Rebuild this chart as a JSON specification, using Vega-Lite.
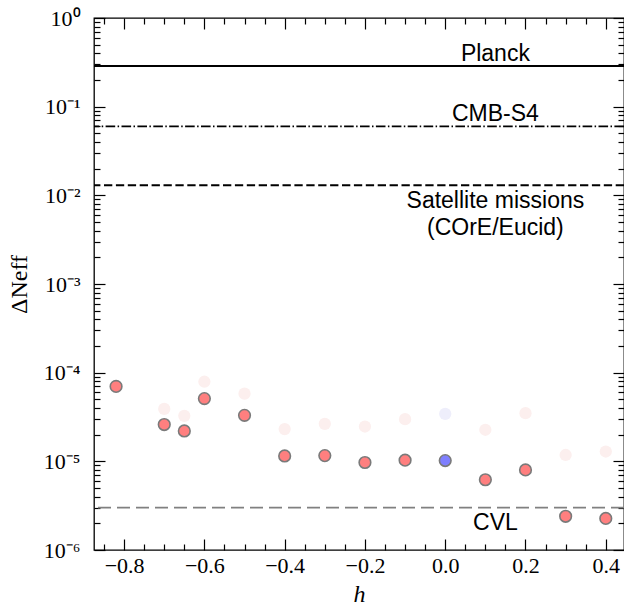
{
  "$schema": "https://vega.github.io/schema/vega-lite/v6.json",
  "autosize": {"type": "none"},
  "width": 530,
  "height": 532,
  "padding": {"left": 94, "top": 18, "right": 0, "bottom": 58},
  "background": "white",
  "config": {
    "view": {"stroke": "black", "strokeWidth": 1.3},
    "axis": {"domain": false, "grid": false, "labelFont": "Liberation Serif", "labelFontSize": 22, "labelColor": "black", "titleFont": "Liberation Serif", "titleFontSize": 24, "titleColor": "black", "titleFontWeight": "normal"}
  },
  "datasets": {
    "solid": [
      {"h": -0.82, "dn": 7.0e-5, "c": "r"},
      {"h": -0.7, "dn": 2.6e-5, "c": "r"},
      {"h": -0.65, "dn": 2.2e-5, "c": "r"},
      {"h": -0.6, "dn": 5.1e-5, "c": "r"},
      {"h": -0.5, "dn": 3.3e-5, "c": "r"},
      {"h": -0.4, "dn": 1.15e-5, "c": "r"},
      {"h": -0.3, "dn": 1.16e-5, "c": "r"},
      {"h": -0.2, "dn": 9.7e-6, "c": "r"},
      {"h": -0.1, "dn": 1.03e-5, "c": "r"},
      {"h": 0.0, "dn": 1.02e-5, "c": "b"},
      {"h": 0.1, "dn": 6.2e-6, "c": "r"},
      {"h": 0.2, "dn": 8.0e-6, "c": "r"},
      {"h": 0.3, "dn": 2.4e-6, "c": "r"},
      {"h": 0.4, "dn": 2.27e-6, "c": "r"}
    ],
    "faint": [
      {"h": -0.7, "dn": 3.9e-5, "c": "r"},
      {"h": -0.65, "dn": 3.26e-5, "c": "r"},
      {"h": -0.6, "dn": 7.9e-5, "c": "r"},
      {"h": -0.5, "dn": 5.8e-5, "c": "r"},
      {"h": -0.4, "dn": 2.31e-5, "c": "r"},
      {"h": -0.3, "dn": 2.65e-5, "c": "r"},
      {"h": -0.2, "dn": 2.47e-5, "c": "r"},
      {"h": -0.1, "dn": 2.99e-5, "c": "r"},
      {"h": 0.0, "dn": 3.43e-5, "c": "b"},
      {"h": 0.1, "dn": 2.27e-5, "c": "r"},
      {"h": 0.2, "dn": 3.49e-5, "c": "r"},
      {"h": 0.3, "dn": 1.18e-5, "c": "r"},
      {"h": 0.4, "dn": 1.29e-5, "c": "r"}
    ],
    "limits": [
      {"name": "Planck", "dn": 0.2875, "style": "solid"},
      {"name": "CMB-S4", "dn": 0.06, "style": "dashdot"},
      {"name": "Satellite", "dn": 0.013, "style": "dashed"},
      {"name": "CVL", "dn": 3.0e-6, "style": "cvl"}
    ],
    "labels": [
      {"h": 0.125, "dn": 0.327, "label": "Planck"},
      {"h": 0.125, "dn": 0.0694, "label": "CMB-S4"},
      {"h": 0.125, "dn": 0.00714, "label": "Satellite missions\n(COrE/Eucid)"}
    ],
    "cvl": [
      {"h": 0.125, "dn": 1.69e-6, "label": "CVL"}
    ]
  },
  "resolve": {"axis": {"x": "independent", "y": "independent"}, "scale": {"color": "independent", "strokeDash": "independent", "strokeWidth": "independent"}},
  "layer": [
    {
      "data": {"name": "limits"},
      "mark": {"type": "rule"},
      "encoding": {
        "y": {"field": "dn", "type": "quantitative", "scale": {"type": "log", "domain": [1e-6, 1], "nice": false}, "axis": null},
        "strokeDash": {"field": "style", "type": "nominal", "scale": {"domain": ["solid", "dashdot", "dashed", "cvl"], "range": [[1, 0], [9.6, 2.4, 1.5, 2.4], [8.3, 3.6], [13, 6]]}, "legend": null},
        "color": {"field": "style", "type": "nominal", "scale": {"domain": ["solid", "dashdot", "dashed", "cvl"], "range": ["#000000", "#000000", "#000000", "#808080"]}, "legend": null},
        "strokeWidth": {"field": "style", "type": "nominal", "scale": {"domain": ["solid", "dashdot", "dashed", "cvl"], "range": [1.8, 1.8, 1.8, 2]}, "legend": null}
      }
    },
    {
      "data": {"name": "faint"},
      "mark": {"type": "point", "filled": true, "opacity": 1, "size": 150, "strokeWidth": 0},
      "encoding": {
        "x": {"field": "h", "type": "quantitative", "scale": {"domain": [-0.875, 0.4454], "nice": false, "zero": false},
          "axis": {"orient": "bottom", "title": "h", "titleFontStyle": "italic", "titlePadding": 6, "values": [-0.8, -0.6, -0.4, -0.2, 0.0, 0.2, 0.4], "format": ".1f", "offset": -11, "ticks": true, "tickColor": "#000000", "tickOpacity": 1, "tickWidth": 1.2, "tickSize": 11, "labelPadding": 5}},
        "y": {"field": "dn", "type": "quantitative", "scale": {"type": "log", "domain": [1e-6, 1], "nice": false},
          "axis": {"orient": "left", "title": "ΔNeff", "titlePadding": 12, "values": [1e-6, 1e-5, 1e-4, 1e-3, 1e-2, 1e-1, 1], "labelExpr": "['10⁰','10⁻¹','10⁻²','10⁻³','10⁻⁴','10⁻⁵','10⁻⁶'][round(-log(datum.value)/LN10)]", "offset": -11, "ticks": true, "tickColor": "#000000", "tickOpacity": 1, "tickWidth": 1.2, "tickSize": 11, "labelPadding": 14}},
        "color": {"field": "c", "type": "nominal", "scale": {"domain": ["r", "b"], "range": ["#fcefee", "#eeeefb"]}, "legend": null}
      }
    },
    {
      "data": {"name": "solid"},
      "mark": {"type": "point", "filled": true, "size": 135, "stroke": "#7a7a7a", "strokeWidth": 1.6, "opacity": 1},
      "encoding": {
        "x": {"field": "h", "type": "quantitative", "scale": {"domain": [-0.875, 0.4454], "nice": false, "zero": false},
          "axis": {"orient": "bottom", "title": null, "labels": false, "offset": -6, "ticks": true, "tickColor": "#000000", "tickOpacity": 1, "tickWidth": 1.2, "tickSize": 6, "values": [-0.85, -0.75, -0.7, -0.65, -0.55, -0.5, -0.45, -0.35, -0.3, -0.25, -0.15, -0.1, -0.05, 0.05, 0.1, 0.15, 0.25, 0.3, 0.35]}},
        "y": {"field": "dn", "type": "quantitative", "scale": {"type": "log", "domain": [1e-6, 1], "nice": false},
          "axis": {"orient": "left", "title": null, "labels": false, "offset": -6, "ticks": true, "tickColor": "#000000", "tickOpacity": 1, "tickWidth": 1.2, "tickSize": 6, "values": [2e-6, 3e-6, 4e-6, 5e-6, 6e-6, 7e-6, 8e-6, 9e-6, 2e-5, 3e-5, 4e-5, 5e-5, 6e-5, 7e-5, 8e-5, 9e-5, 2e-4, 3e-4, 4e-4, 5e-4, 6e-4, 7e-4, 8e-4, 9e-4, 2e-3, 3e-3, 4e-3, 5e-3, 6e-3, 7e-3, 8e-3, 9e-3, 0.02, 0.03, 0.04, 0.05, 0.06, 0.07, 0.08, 0.09, 0.2, 0.3, 0.4, 0.5, 0.6, 0.7, 0.8, 0.9]}},
        "color": {"field": "c", "type": "nominal", "scale": {"domain": ["r", "b"], "range": ["#ff7f7f", "#7f7fff"]}, "legend": null}
      }
    },
    {
      "data": {"name": "labels"},
      "mark": {"type": "text", "font": "Liberation Sans", "fontSize": 23, "align": "center", "baseline": "alphabetic", "lineBreak": "\n", "lineHeight": 27, "color": "black"},
      "encoding": {
        "x": {"field": "h", "type": "quantitative", "scale": {"domain": [-0.875, 0.4454], "nice": false, "zero": false},
          "axis": {"orient": "top", "title": null, "labels": false, "offset": -11, "ticks": true, "tickColor": "#000000", "tickOpacity": 1, "tickWidth": 1.2, "tickSize": 11, "values": [-0.8, -0.6, -0.4, -0.2, 0.0, 0.2, 0.4]}},
        "y": {"field": "dn", "type": "quantitative", "scale": {"type": "log", "domain": [1e-6, 1], "nice": false},
          "axis": {"orient": "right", "title": null, "labels": false, "offset": -11, "ticks": true, "tickColor": "#000000", "tickOpacity": 1, "tickWidth": 1.2, "tickSize": 11, "values": [1e-6, 1e-5, 1e-4, 1e-3, 1e-2, 1e-1, 1]}},
        "text": {"field": "label", "type": "nominal"}
      }
    },
    {
      "data": {"name": "cvl"},
      "mark": {"type": "text", "font": "Liberation Sans", "fontSize": 23, "align": "center", "baseline": "alphabetic", "color": "black"},
      "encoding": {
        "x": {"field": "h", "type": "quantitative", "scale": {"domain": [-0.875, 0.4454], "nice": false, "zero": false},
          "axis": {"orient": "top", "title": null, "labels": false, "offset": -6, "ticks": true, "tickColor": "#000000", "tickOpacity": 1, "tickWidth": 1.2, "tickSize": 6, "values": [-0.85, -0.75, -0.7, -0.65, -0.55, -0.5, -0.45, -0.35, -0.3, -0.25, -0.15, -0.1, -0.05, 0.05, 0.1, 0.15, 0.25, 0.3, 0.35]}},
        "y": {"field": "dn", "type": "quantitative", "scale": {"type": "log", "domain": [1e-6, 1], "nice": false},
          "axis": {"orient": "right", "title": null, "labels": false, "offset": -6, "ticks": true, "tickColor": "#000000", "tickOpacity": 1, "tickWidth": 1.2, "tickSize": 6, "values": [2e-6, 3e-6, 4e-6, 5e-6, 6e-6, 7e-6, 8e-6, 9e-6, 2e-5, 3e-5, 4e-5, 5e-5, 6e-5, 7e-5, 8e-5, 9e-5, 2e-4, 3e-4, 4e-4, 5e-4, 6e-4, 7e-4, 8e-4, 9e-4, 2e-3, 3e-3, 4e-3, 5e-3, 6e-3, 7e-3, 8e-3, 9e-3, 0.02, 0.03, 0.04, 0.05, 0.06, 0.07, 0.08, 0.09, 0.2, 0.3, 0.4, 0.5, 0.6, 0.7, 0.8, 0.9]}},
        "text": {"field": "label", "type": "nominal"}
      }
    }
  ]
}
